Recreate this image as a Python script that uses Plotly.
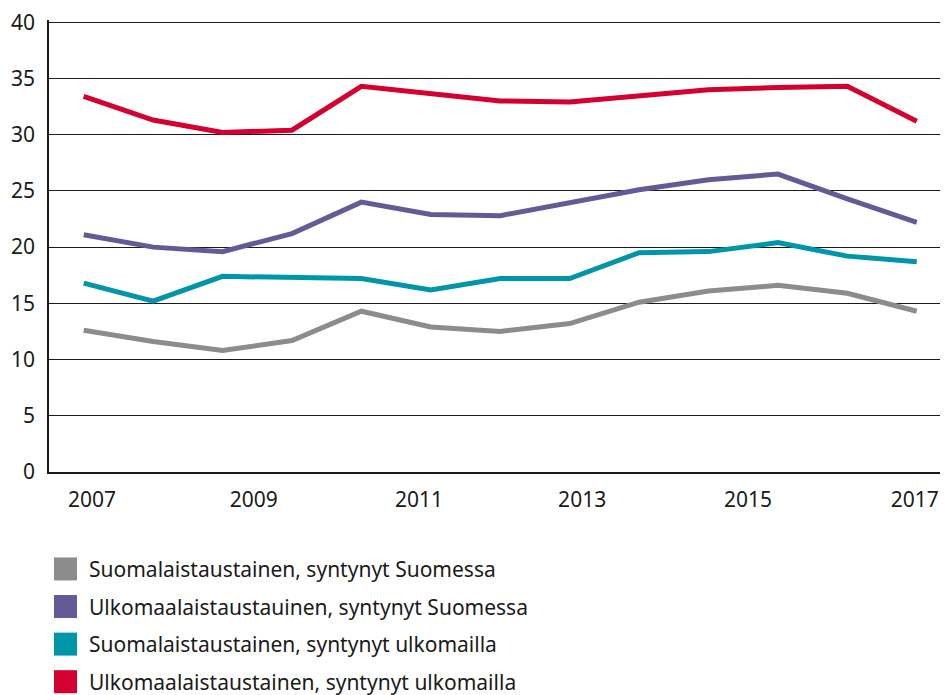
import plotly.graph_objects as go

# Data (13 observation points, labelled every other year on the axis)
points = list(range(13))
tick_labels = ["2007", "2009", "2011", "2013", "2015", "2017"]
tick_positions = [0.12, 2.45, 4.83, 7.18, 9.57, 11.97]

series_names = [
    "Suomalaistaustainen, syntynyt Suomessa",
    "Ulkomaalaistaustauinen, syntynyt Suomessa",
    "Suomalaistaustainen, syntynyt ulkomailla",
    "Ulkomaalaistaustainen, syntynyt ulkomailla",
]
gray_vals = [12.6, 11.6, 10.8, 11.7, 14.3, 12.9, 12.5, 13.2, 15.1, 16.1, 16.6, 15.9, 14.3]
purple_vals = [21.1, 20.0, 19.6, 21.2, 24.0, 22.9, 22.8, 23.9, 25.1, 26.0, 26.5, 24.3, 22.2]
teal_vals = [16.8, 15.2, 17.4, 17.3, 17.2, 16.2, 17.2, 17.2, 19.5, 19.6, 20.4, 19.2, 18.7]
red_vals = [33.4, 31.3, 30.2, 30.4, 34.3, 33.7, 33.0, 32.9, 33.4, 34.0, 34.2, 34.3, 31.2]

colors = ["#8c8c8c", "#665a96", "#0096aa", "#d4002f"]
all_vals = [gray_vals, purple_vals, teal_vals, red_vals]

FONT = "Noto Sans"
TEXT = "#1a1a1a"

fig = go.Figure()
for name, vals, col in zip(series_names, all_vals, colors):
    fig.add_trace(go.Scatter(
        x=points, y=vals, mode="lines", name=name,
        line=dict(color=col, width=5), showlegend=False,
        hoverinfo="skip",
    ))

# Plot area geometry (pixels, figure coordinates)
W, H = 948, 695
Y_TOP = 40.2
ML, MR, MT, MB = 41, 8, 11.75, 231
PW = W - ML - MR
PH = H - MT - MB

# Legend: square swatches with labels below the chart
row_y0 = 561       # pixel y of first row centre (figure coords)
row_step = 37.6
sw = 23
sw_x0 = 46         # pixel x of swatch left (figure coords)
txt_x = 79
for i, (name, col) in enumerate(zip(series_names, colors)):
    cy = row_y0 + i * row_step
    fig.add_shape(
        type="rect", xref="paper", yref="paper",
        x0=(sw_x0 - ML) / PW, x1=(sw_x0 + sw - ML) / PW,
        y0=(MT + PH - (cy - sw / 2)) / PH, y1=(MT + PH - (cy + sw / 2)) / PH,
        fillcolor=col, line=dict(width=0), layer="above",
    )
    fig.add_annotation(
        xref="paper", yref="paper",
        x=(txt_x - ML) / PW, y=(MT + PH - cy) / PH,
        xanchor="left", yanchor="middle", showarrow=False,
        text=name, font=dict(family=FONT, size=21, color=TEXT),
    )

fig.update_layout(
    width=W, height=H,
    margin=dict(l=ML, r=MR, t=MT, b=MB, autoexpand=False),
    paper_bgcolor="white", plot_bgcolor="white",
    font=dict(family=FONT, size=21, color=TEXT),
    showlegend=False,
    xaxis=dict(
        range=[-0.5, 12.45], tickmode="array",
        tickvals=tick_positions, ticktext=tick_labels,
        showgrid=False, zeroline=False, automargin=False,
        showline=True, linecolor=TEXT, linewidth=1.5,
        ticks="", ticklabelstandoff=8, ticklabeloverflow="allow",
        tickfont=dict(family=FONT, size=21, color=TEXT),
    ),
    yaxis=dict(
        range=[0, Y_TOP], dtick=5, tick0=0, automargin=False,
        showgrid=True, gridcolor=TEXT, gridwidth=1.2,
        zeroline=False,
        showline=True, linecolor=TEXT, linewidth=1.5,
        ticks="", ticklabelstandoff=8, ticklabeloverflow="allow",
        tickfont=dict(family=FONT, size=21, color=TEXT),
    ),
)

fig.write_html("out.html")
